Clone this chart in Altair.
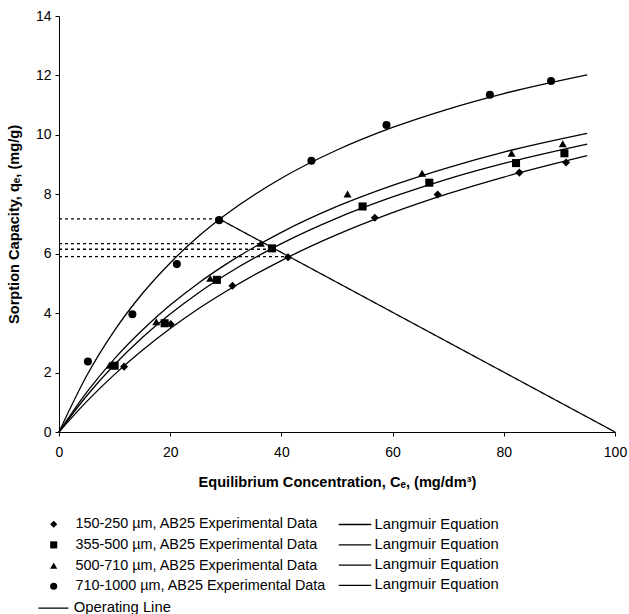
import altair as alt
import pandas as pd

# ---------------- data ----------------
series = ["150-250 µm, AB25 Experimental Data",
          "355-500 µm, AB25 Experimental Data",
          "500-710 µm, AB25 Experimental Data",
          "710-1000 µm, AB25 Experimental Data"]

dia_C = [11.7, 20.1, 31.2, 41.2, 56.8, 68.1, 82.8, 91.2]
dia_q = [2.20, 3.63, 4.92, 5.88, 7.21, 7.99, 8.73, 9.07]
sq_C = [10.0, 19.0, 28.4, 38.3, 54.6, 66.6, 82.2, 90.9]
sq_q = [2.23, 3.66, 5.12, 6.18, 7.59, 8.39, 9.05, 9.38]
tri_C = [9.1, 17.5, 27.2, 36.3, 51.9, 65.3, 81.4, 90.6]
tri_q = [2.25, 3.71, 5.17, 6.35, 8.01, 8.71, 9.38, 9.70]
cir_C = [5.2, 13.2, 21.2, 28.8, 45.4, 58.9, 77.5, 88.5]
cir_q = [2.37, 3.96, 5.65, 7.13, 9.13, 10.33, 11.35, 11.81]

# Langmuir curves read along their paths
curve_C = [0, 5, 10, 15, 20, 25, 30, 40, 50, 60, 70, 80, 95]
dia_fit = [0, 1.03, 1.94, 2.75, 3.48, 4.14, 4.73, 5.77, 6.64, 7.38, 8.02, 8.58, 9.30]
sq_fit = [0, 1.22, 2.27, 3.18, 3.97, 4.67, 5.29, 6.34, 7.20, 7.91, 8.52, 9.04, 9.69]
tri_fit = [0, 1.34, 2.47, 3.43, 4.27, 5.00, 5.64, 6.72, 7.59, 8.30, 8.90, 9.42, 10.05]
cir_fit = [0, 1.90, 3.42, 4.66, 5.69, 6.57, 7.32, 8.54, 9.49, 10.25, 10.87, 11.39, 12.02]

# operating line
op_C = [28.8, 100]
op_q = [7.17, 0]

# dotted guide lines
guide_q = [7.17, 6.34, 6.15, 5.90]
guide_C0 = [0, 0, 0, 0]
guide_C1 = [28.8, 36.8, 38.6, 41.2]

curve_keys = ["L1", "L2", "L3", "L4"]
shapes = ["diamond", "square", "triangle-up", "circle"]

# ---------------- tables ----------------
pts = pd.concat([
    pd.DataFrame({"C": c, "q": q, "series": s})
    for c, q, s in zip([dia_C, sq_C, tri_C, cir_C], [dia_q, sq_q, tri_q, cir_q], series)
])
fits = pd.concat([
    pd.DataFrame({"C": curve_C, "q": f, "curve": k})
    for f, k in zip([dia_fit, sq_fit, tri_fit, cir_fit], curve_keys)
])
op = pd.DataFrame({"C": op_C, "q": op_q, "op": "Operating Line"})
guides = pd.DataFrame({"C0": guide_C0, "C1": guide_C1, "q": guide_q})

FONT = "Liberation Sans"
LEG_FS = 14.8
ROWPAD = 4.3

xscale = alt.Scale(domain=[0, 100], nice=False)
yscale = alt.Scale(domain=[0, 14], nice=False)

xaxis = alt.Axis(values=list(range(0, 101, 20)), title="Equilibrium Concentration, Cₑ, (mg/dm³)",
                 titleFontWeight="bold", titleFontSize=14.6, titleBaseline="middle", titleY=50,
                 labelFontSize=14, labelPadding=9, tickSize=4, labelFlush=False)
yaxis = alt.Axis(values=list(range(0, 15, 2)), title="Sorption Capacity, qₑ, (mg/g)",
                 titleFontWeight="bold", titleFontSize=14.6, titleAngle=-90,
                 titleBaseline="alphabetic", titleAlign="center", titleX=-41, titleY=208,
                 labelFontSize=14, labelPadding=4, tickSize=4)

points = alt.Chart(pts).mark_point(filled=True, opacity=1, color="black", size=65).encode(
    x=alt.X("C:Q", scale=xscale, axis=xaxis),
    y=alt.Y("q:Q", scale=yscale, axis=yaxis),
    shape=alt.Shape("series:N", scale=alt.Scale(domain=series, range=shapes),
                    legend=alt.Legend(orient="none", legendX=-12.5, legendY=501, title=None,
                                      labelFontSize=14.4, labelFont=FONT, labelColor="black",
                                      symbolSize=50, symbolFillColor="black",
                                      symbolStrokeColor="black", symbolStrokeWidth=0.5,
                                      labelOffset=14.5, rowPadding=5.7, padding=0,
                                      labelLimit=400)),
)

lines = alt.Chart(fits).mark_line(interpolate="monotone", strokeWidth=1.3).encode(
    x="C:Q", y="q:Q",
    stroke=alt.Stroke("curve:N", scale=alt.Scale(domain=curve_keys, range=["black"] * 4),
                      legend=alt.Legend(orient="none", legendX=288.5, legendY=501, title=None,
                                        labelExpr="'Langmuir Equation'",
                                        labelFontSize=LEG_FS, labelFont=FONT, labelColor="black",
                                        symbolType="M-2.5,0H2.5", symbolSize=169,
                                        symbolStrokeWidth=1.3, labelOffset=12,
                                        rowPadding=ROWPAD, padding=0)),
)

opline = alt.Chart(op).mark_line(strokeWidth=1.3, color="black").encode(
    x="C:Q", y="q:Q",
    strokeDash=alt.StrokeDash("op:N", scale=alt.Scale(domain=["Operating Line"], range=[[1, 0]]),
                              legend=alt.Legend(orient="none", legendX=-13, legendY=584.7, title=None,
                                                labelFontSize=LEG_FS, labelFont=FONT, labelColor="black",
                                                symbolType="M-2.5,0H2.5", symbolSize=144,
                                                symbolStrokeColor="black", symbolStrokeWidth=1.3,
                                                labelOffset=13, padding=0)),
)

dots = alt.Chart(guides).mark_rule(strokeDash=[3, 3], strokeWidth=1.3, color="black").encode(
    x="C0:Q", x2="C1:Q", y="q:Q",
)

chart = alt.layer(dots, opline, lines, points).properties(
    width=556, height=416,
    padding={"left": 59, "top": 16, "right": 14, "bottom": 182},
    autosize=alt.AutoSizeParams(type="none"),
).configure(font=FONT).configure_view(stroke=None).configure_axis(
    grid=False, domainColor="black", tickColor="black", labelColor="black", titleColor="black",
    labelFont=FONT, titleFont=FONT,
)

chart.save("out.html", embed_options={"renderer": "svg", "actions": False})
